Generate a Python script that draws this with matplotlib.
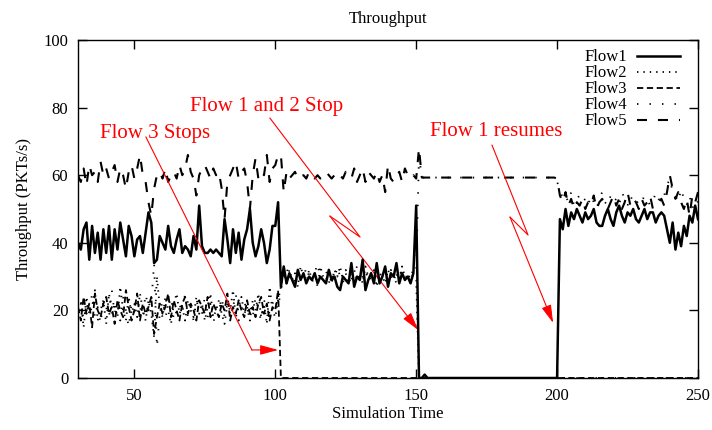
import matplotlib
matplotlib.use('Agg')
import matplotlib.pyplot as plt
from matplotlib.patches import FancyArrowPatch

plt.rcParams['font.family'] = ['Liberation Serif', 'DejaVu Serif']
plt.rcParams['lines.scale_dashes'] = False

# ---------------- data ----------------
time = list(range(30, 251))

flow1 = [
    40, 38, 44, 46, 35, 45, 37, 43, 35, 44,
    37, 45, 35, 44, 38, 46, 41, 36, 45, 42,
    36, 41, 42, 37, 43, 49, 46, 34, 35, 42,
    40, 38, 45, 39, 37, 41, 44, 37, 39, 38,
    36, 42, 38, 51, 39, 37, 37, 38, 37, 38,
    37, 36, 47, 41, 34, 44, 37, 43, 35, 41,
    44, 50, 40, 36, 39, 44, 40, 34, 38, 45,
    45, 52, 27, 33, 28, 31, 29, 27, 32, 29,
    31, 28, 30, 29, 31, 28, 30, 29, 28, 32,
    29, 30, 27, 26, 30, 29, 28, 34, 27, 30,
    29, 35, 26, 29, 31, 28, 34, 28, 30, 33,
    27, 31, 30, 34, 28, 31, 29, 30, 28, 31,
    51, 0, 0, 1, 0, 0, 0, 0, 0, 0,
    0, 0, 0, 0, 0, 0, 0, 0, 0, 0,
    0, 0, 0, 0, 0, 0, 0, 0, 0, 0,
    0, 0, 0, 0, 0, 0, 0, 0, 0, 0,
    0, 0, 0, 0, 0, 0, 0, 0, 0, 0,
    0, 47, 44, 50, 45, 49, 47, 50, 48, 46,
    49, 47, 48, 50, 46, 45, 45, 48, 50, 47,
    45, 49, 51, 48, 46, 49, 48, 50, 47, 46,
    48, 50, 47, 49, 49, 46, 48, 49, 48, 44,
    40, 46, 38, 43, 39, 45, 42, 48, 46, 51,
    47,
]

flow2 = [
    18, 22, 15, 24, 19, 21, 26, 17, 20, 23,
    16, 25, 19, 22, 18, 27, 20, 17, 24, 19,
    22, 18, 25, 20, 17, 23, 19, 12, 30, 21,
    18, 24, 20, 16, 22, 25, 19, 21, 17, 23,
    20, 18, 24, 19, 22, 17, 21, 25, 18, 20,
    23, 19, 16, 22, 20, 26, 18, 21, 24, 19,
    21, 17, 23, 20, 25, 18, 22, 16, 27, 20,
    18, 23, 27, 31, 28, 32, 29, 31, 27, 33,
    30, 28, 32, 29, 31, 27, 33, 30, 29, 31,
    28, 32, 30, 33, 29, 31, 28, 30, 32, 29,
    31, 28, 33, 30, 29, 32, 27, 31, 30, 28,
    32, 30, 29, 31, 28, 33, 30, 29, 31, 30,
    29,
    0, 0, 0, 0, 0, 0, 0, 0, 0, 0,
    0, 0, 0, 0, 0, 0, 0, 0, 0, 0,
    0, 0, 0, 0, 0, 0, 0, 0, 0, 0,
    0, 0, 0, 0, 0, 0, 0, 0, 0, 0,
    0, 0, 0, 0, 0, 0, 0, 0, 0, 0,
    0, 0, 0, 0, 0, 0, 0, 0, 0, 0,
    0, 0, 0, 0, 0, 0, 0, 0, 0, 0,
    0, 0, 0, 0, 0, 0, 0, 0, 0, 0,
    0, 0, 0, 0, 0, 0, 0, 0, 0, 0,
    0, 0, 0, 0, 0, 0, 0, 0, 0, 0,
]

flow3 = [
    21, 17, 24, 19, 22, 15, 25, 20, 18, 22,
    24, 19, 21, 16, 23, 20, 18, 26, 21, 17,
    20, 25, 17, 22, 19, 21, 24, 13, 18, 22,
    19, 21, 25, 18, 23, 20, 17, 22, 24, 19,
    22, 20, 17, 23, 21, 19, 24, 18, 22, 20,
    18, 22, 20, 25, 17, 21, 19, 23, 20, 18,
    23, 19, 21, 18, 22, 24, 19, 22, 17, 21,
    20, 26,
    0, 0, 0, 0, 0, 0, 0, 0,
    0, 0, 0, 0, 0, 0, 0, 0, 0, 0,
    0, 0, 0, 0, 0, 0, 0, 0, 0, 0,
    0, 0, 0, 0, 0, 0, 0, 0, 0, 0,
    0, 0, 0, 0, 0, 0, 0, 0, 0, 0,
    0, 0, 0, 0, 0, 0, 0, 0, 0, 0,
    0, 0, 0, 0, 0, 0, 0, 0, 0, 0,
    0, 0, 0, 0, 0, 0, 0, 0, 0, 0,
    0, 0, 0, 0, 0, 0, 0, 0, 0, 0,
    0, 0, 0, 0, 0, 0, 0, 0, 0, 0,
    0, 0, 0, 0, 0, 0, 0, 0, 0, 0,
    0, 0, 0, 0, 0, 0, 0, 0, 0, 0,
    0, 0, 0, 0, 0, 0, 0, 0, 0, 0,
    0, 0, 0, 0, 0, 0, 0, 0, 0, 0,
    0, 0, 0, 0, 0, 0, 0, 0, 0, 0,
    0,
]

flow4 = [
    20, 23, 17, 22, 19, 25, 18, 21, 16, 23,
    21, 18, 26, 19, 22, 17, 24, 20, 15, 22,
    19, 23, 21, 18, 25, 20, 22, 34, 9, 19,
    23, 18, 21, 24, 17, 20, 22, 19, 25, 18,
    21, 17, 23, 20, 19, 24, 18, 22, 16, 21,
    20, 24, 18, 22, 19, 21, 25, 17, 20, 23,
    19, 22, 18, 24, 20, 17, 23, 21, 19, 22,
    24, 21, 26, 30, 33, 29, 31, 28, 32, 30,
    29, 33, 30, 28, 31, 34, 29, 30, 32, 28,
    31, 29, 33, 30, 28, 32, 30, 29, 31, 33,
    28, 30, 32, 29, 31, 30, 33, 28, 30, 31,
    29, 32, 30, 28, 33, 30, 29, 31, 30, 32,
    31, 66, 59.3, 59.3, 59.3, 59.3, 59.3, 59.3, 59.3, 59.3,
    59.3, 59.3, 59.3, 59.3, 59.3, 59.3, 59.3, 59.3, 59.3, 59.3,
    59.3, 59.3, 59.3, 59.3, 59.3, 59.3, 59.3, 59.3, 59.3, 59.3,
    59.3, 59.3, 59.3, 59.3, 59.3, 59.3, 59.3, 59.3, 59.3, 59.3,
    59.3, 59.3, 59.3, 59.3, 59.3, 59.3, 59.3, 59.3, 59.3, 59.3,
    58, 56, 53, 54, 52, 55, 51, 53, 54, 52,
    53, 51, 54, 52, 50, 53, 55, 52, 51, 54,
    52, 53, 51, 55, 53, 51, 54, 52, 53, 51,
    52, 54, 53, 51, 52, 55, 53, 52, 54, 57,
    59, 55, 54, 52, 56, 53, 51, 54, 50, 53,
    52,
]

flow5 = [
    60, 58, 62, 57, 63, 60, 61, 58, 64, 60,
    62, 59, 61, 63, 58, 62, 60, 56, 61, 63,
    59, 62, 66, 60, 58, 52, 48, 56, 60, 61,
    59, 62, 58, 60, 61, 59, 63, 60, 62, 66,
    61, 59, 54, 60, 62, 63, 61, 59, 62, 60,
    61, 56, 47, 58, 60, 62, 64, 59, 61, 62,
    58, 50, 60, 65, 59, 61, 60, 66, 58, 62,
    63, 66, 66, 55, 61, 59, 60, 61, 59, 60,
    60, 59, 61, 60, 59, 60, 59, 60, 61, 60,
    59, 60, 61, 60, 59, 61, 60, 59, 62, 58,
    60, 62, 58, 61, 60, 59, 61, 58, 60, 55,
    63, 59, 58, 60, 61, 58, 62, 60, 59, 60,
    59, 68, 59.3, 59.3, 59.3, 59.3, 59.3, 59.3, 59.3, 59.3,
    59.3, 59.3, 59.3, 59.3, 59.3, 59.3, 59.3, 59.3, 59.3, 59.3,
    59.3, 59.3, 59.3, 59.3, 59.3, 59.3, 59.3, 59.3, 59.3, 59.3,
    59.3, 59.3, 59.3, 59.3, 59.3, 59.3, 59.3, 59.3, 59.3, 59.3,
    59.3, 59.3, 59.3, 59.3, 59.3, 59.3, 59.3, 59.3, 59.3, 59.3,
    59, 54, 52, 55, 51, 53, 50, 52, 51, 53,
    50, 52, 51, 54, 50, 52, 53, 51, 50, 52,
    54, 51, 53, 50, 52, 55, 51, 53, 52, 50,
    53, 51, 52, 54, 50, 51, 52, 53, 51, 55,
    60, 56, 53, 55, 52, 50, 53, 48, 54, 52,
    55,
]

series_labels = ['Flow1', 'Flow2', 'Flow3', 'Flow4', 'Flow5']
x_ticks = [50, 100, 150, 200, 250]
y_ticks = [0, 20, 40, 60, 80, 100]

notes = ['Flow 3 Stops', 'Flow 1 and 2 Stop', 'Flow 1 resumes']

# ---------------- figure ----------------
fig = plt.figure(figsize=(7.12, 4.30), dpi=100)
ax = fig.add_axes([78 / 712, 52 / 430, 620 / 712, 338 / 430])

ax.plot(time, flow1, color='black', lw=1.8, label=series_labels[0])
ax.plot(time, flow2, color='black', lw=1.3, dashes=(1, 3.6), label=series_labels[1])
ax.plot(time, flow3, color='black', lw=1.3, dashes=(4.5, 2.6), label=series_labels[2])
ax.plot(time, flow4, color='black', lw=1.3, dashes=(1, 8), label=series_labels[3])
ax.plot(time, flow5, color='black', lw=1.5, dashes=(7.2, 7.9), label=series_labels[4])

ax.set_xlim(30, 250)
ax.set_ylim(0, 100)
ax.set_xticks(x_ticks)
ax.set_yticks(y_ticks)
ax.tick_params(direction='in', length=6.5, width=1, top=True, right=True,
               labelsize=12, pad=7)
for s in ax.spines.values():
    s.set_linewidth(1.0)

ax.set_title('Throughput', fontsize=12, pad=12.5)
ax.set_xlabel('Simulation Time', fontsize=12, labelpad=2)
ax.set_ylabel('Throughput (PKTs/s)', fontsize=12, labelpad=8)

ax.legend(loc='upper right', bbox_to_anchor=(0.977, 0.982), frameon=False,
          markerfirst=False, fontsize=12, handlelength=2.6, labelspacing=0.0,
          handletextpad=0.6, borderaxespad=0.0, borderpad=0.2)

# ---------------- annotations ----------------
red = '#ff0000'
ax.text(37.8, 71, notes[0], color=red, fontsize=15)
ax.text(69.7, 79, notes[1], color=red, fontsize=15)
ax.text(154.9, 71.6, notes[2], color=red, fontsize=15)

arrow_paths = [
    ([54.1, 91.7, 101.0], [71.3, 8.3, 8.3]),
    ([98.1, 130.1, 119.4, 150.7], [76.9, 41.7, 47.9, 14.2]),
    ([176.9, 189.7, 183.3, 198.6], [68.9, 42.3, 47.6, 16.3]),
]
for xs, ys in arrow_paths:
    ax.plot(xs[:-1], ys[:-1], color=red, lw=0.8)
    arr = FancyArrowPatch((xs[-2], ys[-2]), (xs[-1], ys[-1]),
                          arrowstyle='-|>,head_length=1.1,head_width=0.3',
                          mutation_scale=10, color=red, lw=0.8,
                          shrinkA=0, shrinkB=0)
    ax.add_patch(arr)

fig.savefig('out.png', dpi=100)
